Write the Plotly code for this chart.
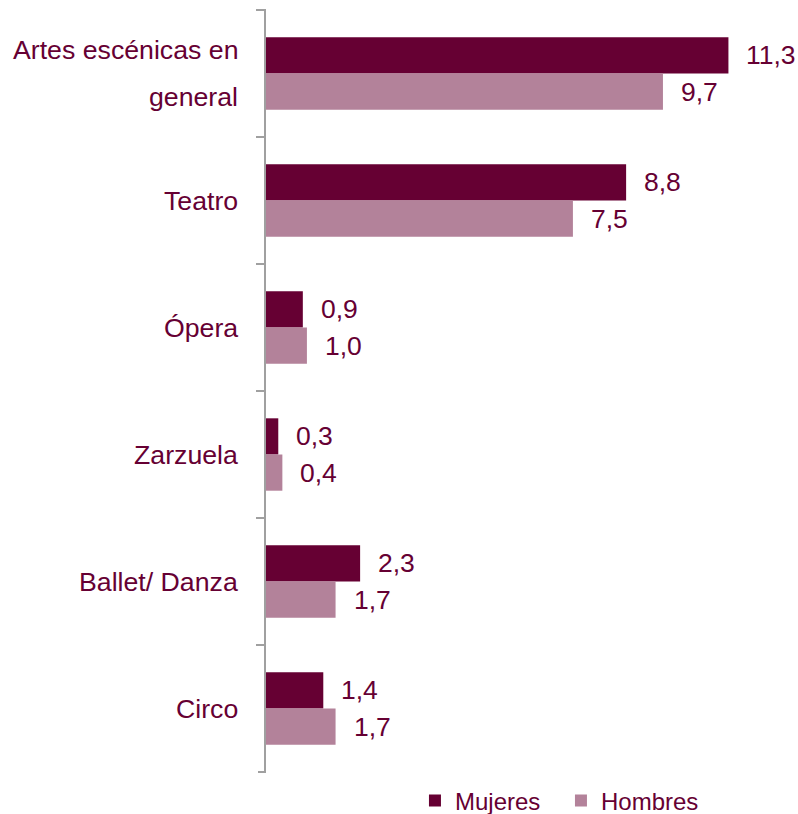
import plotly.graph_objects as go

categories = ["Artes escénicas en general", "Teatro", "Ópera", "Zarzuela", "Ballet/ Danza", "Circo"]
category_lines = [["Artes escénicas en", "general"], ["Teatro"], ["Ópera"], ["Zarzuela"], ["Ballet/ Danza"], ["Circo"]]
mujeres = [11.3, 8.8, 0.9, 0.3, 2.3, 1.4]
hombres = [9.7, 7.5, 1.0, 0.4, 1.7, 1.7]

C_MUJ = "#660033"
C_HOM = "#B3829A"
TXT = "#660033"
AXIS = "#A0A0A0"
FONT = "Liberation Sans, Arial, sans-serif"
BARGAP = 0.43

fig = go.Figure()
fig.add_trace(go.Bar(y=categories, x=mujeres, name="Mujeres", orientation="h",
                     marker=dict(color=C_MUJ, line=dict(width=0))))
fig.add_trace(go.Bar(y=categories, x=hombres, name="Hombres", orientation="h",
                     marker=dict(color=C_HOM, line=dict(width=0))))

def fmt(v):
    return f"{v:.1f}".replace(".", ",")

annotations = []
off = (1 - BARGAP) / 4
for i, (m, h) in enumerate(zip(mujeres, hombres)):
    for val, dy in ((m, -off), (h, off)):
        annotations.append(dict(x=val, y=i + dy, xref="x", yref="y", text=fmt(val),
                                showarrow=False, xanchor="left", yanchor="middle",
                                xshift=16, font=dict(size=26.5, color=TXT, family=FONT)))

# category labels, with wide spacing for two-line names
for i, lines in enumerate(category_lines):
    n = len(lines)
    for j, line in enumerate(lines):
        shift = (n - 1) / 2 * 47 - j * 47
        annotations.append(dict(x=0, y=i, xref="paper", yref="y", text=line,
                                showarrow=False, xanchor="right", yanchor="middle",
                                xshift=-26, yshift=shift,
                                font=dict(size=26.7, color=TXT, family=FONT)))

# tick marks at the two outer ends of the category axis
shapes = [dict(type="line", xref="paper", yref="paper", xsizemode="pixel", xanchor=0,
               x0=-8, x1=0, y0=yy, y1=yy, line=dict(color=AXIS, width=2))
          for yy in (0, 1)]

fig.update_layout(
    width=798, height=814,
    margin=dict(l=266, r=0, t=10, b=42),
    paper_bgcolor="white", plot_bgcolor="white",
    barmode="group", bargap=BARGAP, bargroupgap=0,
    font=dict(family=FONT, color=TXT),
    showlegend=True,
    legend=dict(orientation="h", xref="container", yref="container",
                x=0.52, y=0.016, xanchor="left", yanchor="middle",
                font=dict(size=24, color=TXT, family=FONT),
                entrywidth=101, entrywidthmode="pixels", traceorder="normal"),
    annotations=annotations,
    shapes=shapes,
)
fig.update_xaxes(range=[0, 13], showgrid=False, zeroline=False, showticklabels=False,
                 showline=False, ticks="")
fig.update_yaxes(autorange="reversed", showgrid=False, zeroline=False, showticklabels=False,
                 showline=True, linecolor=AXIS, linewidth=2,
                 ticks="outside", tickson="boundaries", ticklen=8, tickcolor=AXIS, tickwidth=2)

fig.write_html("out.html")
